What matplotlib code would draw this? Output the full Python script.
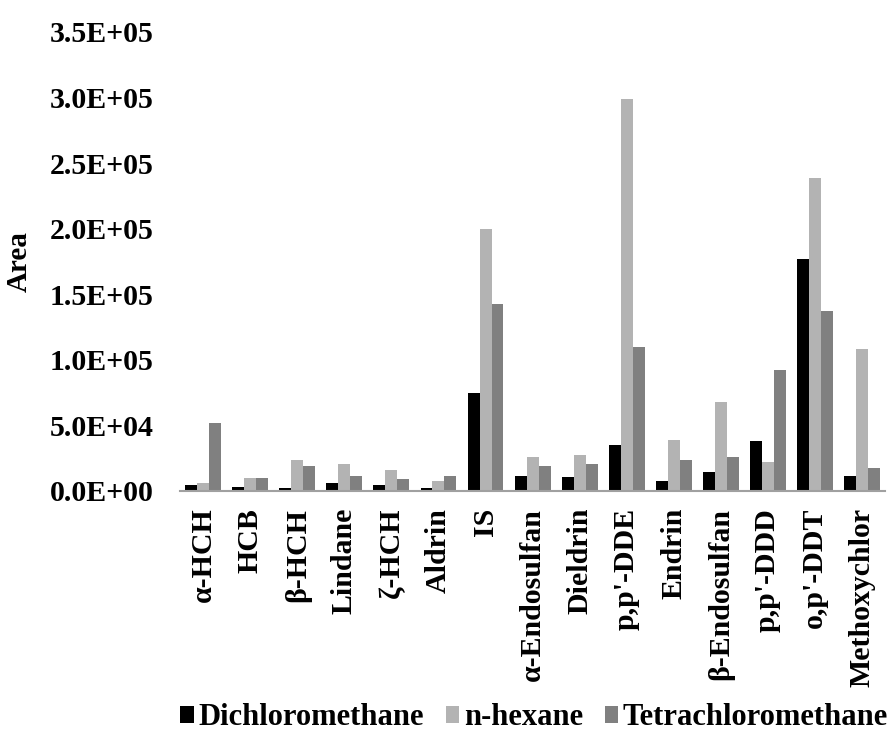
import matplotlib.pyplot as plt
import numpy as np

plt.rcParams['font.family'] = ['Liberation Serif', 'DejaVu Serif']
plt.rcParams['font.weight'] = 'bold'

compounds = ['α-HCH', 'HCB', 'β-HCH', 'Lindane', 'ζ-HCH', 'Aldrin', 'IS',
             'α-Endosulfan', 'Dieldrin', "p,p'-DDE", 'Endrin', 'β-Endosulfan',
             "p,p'-DDD", "o,p'-DDT", 'Methoxychlor']

dichloromethane = [4600, 3300, 2000, 6100, 4600, 2000, 74900,
                   11700, 10400, 34800, 7400, 14700, 37900, 177000, 11700]
hexane = [5900, 10100, 23400, 20300, 16200, 7400, 199600,
          26100, 27700, 298700, 39100, 67800, 21900, 238500, 108000]
tetrachloromethane = [52000, 10100, 18800, 11700, 8900, 11700, 142300,
                      18800, 20300, 109500, 23400, 26100, 92200, 136900, 17500]

yticks = [0, 50000, 100000, 150000, 200000, 250000, 300000, 350000]
ylabels = ['0.0E+00', '5.0E+04', '1.0E+05', '1.5E+05', '2.0E+05',
           '2.5E+05', '3.0E+05', '3.5E+05']

fig = plt.figure(figsize=(8.95, 7.4), dpi=100)
ax = fig.add_axes([0.201, 0.3365, 0.788, 0.6203])

x = np.arange(len(compounds))
w = 0.255
ax.bar(x - w, dichloromethane, w, color='#000000', label='Dichloromethane')
ax.bar(x, hexane, w, color='#b3b3b3', label='n-hexane')
ax.bar(x + w, tetrachloromethane, w, color='#808080', label='Tetrachloromethane')

ax.set_xlim(-0.5, len(compounds) - 0.5)
ax.set_ylim(0, 350000)
ax.set_yticks(yticks)
ax.set_yticklabels(ylabels)
ax.set_xticks(x)
ax.set_xticklabels(compounds, rotation=90, va='top', ha='center')
ax.tick_params(axis='both', length=0)
ax.tick_params(axis='x', pad=12, labelsize=21.5)
ax.tick_params(axis='y', pad=19, labelsize=21.5)

for s in ['top', 'right', 'left']:
    ax.spines[s].set_visible(False)
ax.spines['bottom'].set_color('#a0a0a0')
ax.spines['bottom'].set_linewidth(1.5)

ax.set_ylabel('Area', fontsize=21, fontweight='bold', labelpad=12)

fig.legend(loc='center', bbox_to_anchor=(0.597, 0.03), ncol=3, frameon=False,
           fontsize=22, handlelength=0.45, handleheight=0.45, handletextpad=0.15,
           columnspacing=0.7, borderpad=0.1)

fig.savefig('out.png', dpi=100)
